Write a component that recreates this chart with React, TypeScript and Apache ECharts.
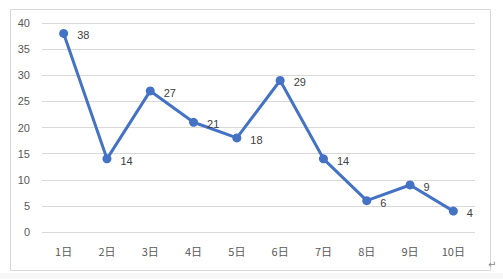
import React, { useEffect, useRef } from "react";
import * as echarts from "echarts";

const categories = ["1日", "2日", "3日", "4日", "5日", "6日", "7日", "8日", "9日", "10日"];
const values = [38, 14, 27, 21, 18, 29, 14, 6, 9, 4];
const yTicks = [0, 5, 10, 15, 20, 25, 30, 35, 40];

export default function App() {
  const ref = useRef<HTMLDivElement>(null);
  useEffect(() => {
    const chart = echarts.init(ref.current!, null, { renderer: "svg" });
    chart.setOption({
      animation: false,
      backgroundColor: "#ffffff",
      textStyle: { fontFamily: "Noto Sans CJK SC, sans-serif" },
      graphic: [
        {
          type: "rect",
          shape: { x: 10.5, y: 9.5, width: 480, height: 261 },
          style: { fill: "none", stroke: "#d9d9d9", lineWidth: 1 },
        },
        {
          type: "rect",
          shape: { x: 0, y: 273, width: 503, height: 6 },
          style: { fill: "#f7f7f7" },
        },
        {
          type: "text",
          x: 488,
          y: 259,
          style: { text: "↵", fill: "#8c8c8c", fontSize: 10, fontFamily: "DejaVu Sans" },
        },
      ],
      grid: { left: 42, right: 28, top: 23, bottom: 47 },
      xAxis: {
        type: "category",
        data: categories,
        boundaryGap: true,
        axisLine: { show: false },
        axisTick: { show: false },
        axisLabel: { color: "#595959", fontSize: 11, margin: 13 },
      },
      yAxis: {
        type: "value",
        min: yTicks[0],
        max: yTicks[yTicks.length - 1],
        interval: 5,
        axisLine: { show: false },
        axisTick: { show: false },
        axisLabel: { color: "#595959", fontSize: 11, margin: 12, fontFamily: "Liberation Sans, Arial, sans-serif" },
        splitLine: { lineStyle: { color: "#d9d9d9", width: 1 } },
      },
      series: [
        {
          type: "line",
          data: values,
          symbol: "circle",
          symbolSize: 9,
          lineStyle: { color: "#4472C4", width: 3 },
          itemStyle: { color: "#4472C4" },
          label: {
            show: true,
            position: "right",
            distance: 9,
            color: "#404040",
            fontSize: 11,
            fontFamily: "Liberation Sans, Arial, sans-serif",
            offset: [0, 2],
          },
        },
      ],
    });
    return () => chart.dispose();
  }, []);
  return (
    <div
      ref={ref}
      style={{ position: "fixed", left: 0, top: 0, width: 503, height: 279 }}
    />
  );
}
